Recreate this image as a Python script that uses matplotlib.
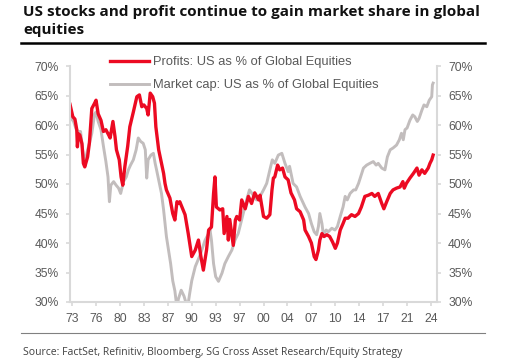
import matplotlib
matplotlib.use("Agg")
import matplotlib.pyplot as plt
from matplotlib.lines import Line2D
import numpy as np

# Profits: US as % of Global Equities (decimal year, %)
profit_years = [
    1972.7, 1973.1, 1973.4, 1973.66, 1973.75, 1973.9, 1974.1, 1974.4, 1974.6, 1974.8,
    1975.2, 1975.46, 1975.8, 1976.2, 1976.4, 1976.7, 1977.1, 1977.45, 1977.8, 1978.2,
    1978.4, 1978.8, 1979.1, 1979.3, 1979.7, 1979.96, 1980.2, 1980.5, 1980.9, 1981.2,
    1981.7, 1982.2, 1982.56, 1982.9, 1983.2, 1983.6, 1983.8, 1984.1, 1984.45, 1984.7,
    1984.9, 1985.3, 1985.6, 1986.0, 1986.2, 1986.4, 1986.9, 1987.3, 1987.6, 1987.9,
    1988.1, 1988.3, 1988.6, 1989.05, 1989.5, 1990.0, 1990.5, 1990.95, 1991.3, 1991.65,
    1992.1, 1992.4, 1992.8, 1993.1, 1993.3, 1993.5, 1994.0, 1994.4, 1994.6, 1995.0,
    1995.2, 1995.4, 1995.6, 1995.9, 1996.2, 1996.4, 1996.8, 1997.1, 1997.6, 1998.05,
    1998.5, 1998.95, 1999.5, 1999.7, 2000.2, 2000.65, 2001.1, 2001.4, 2001.6, 2001.8,
    2002.2, 2002.5, 2002.9, 2003.25, 2003.7, 2004.1, 2004.6, 2004.9, 2005.4, 2005.9,
    2006.1, 2006.6, 2007.0, 2007.4, 2007.65, 2008.0, 2008.2, 2008.5, 2008.8, 2009.2,
    2009.6, 2010.0, 2010.4, 2010.7, 2011.1, 2011.5, 2011.8, 2012.2, 2012.7, 2013.2,
    2013.7, 2014.1, 2014.6, 2015.1, 2015.6, 2016.0, 2016.5, 2017.0, 2017.3, 2017.7,
    2018.2, 2018.6, 2019.1, 2019.6, 2020.0, 2020.2, 2020.5, 2021.0, 2021.5, 2022.0,
    2022.3, 2022.7, 2023.1, 2023.6, 2023.85, 2024.1, 2024.3,
]
profit_share = [
    63.5, 61.4, 61.0, 59.2, 56.3, 58.5, 58.3, 56.8, 53.5, 52.9,
    54.6, 57.0, 62.8, 63.7, 64.2, 61.9, 60.8, 58.9, 59.2, 58.3,
    57.8, 60.6, 58.0, 55.8, 54.1, 51.2, 49.8, 53.0, 56.4, 59.7,
    62.2, 64.8, 65.1, 63.1, 63.4, 62.8, 61.7, 65.4, 64.8, 63.7,
    59.7, 55.8, 54.1, 51.8, 50.1, 49.0, 47.6, 45.0, 43.9, 47.0,
    46.7, 47.0, 46.1, 44.8, 41.6, 37.7, 38.8, 40.5, 37.7, 35.4,
    38.8, 42.2, 42.7, 48.4, 51.2, 46.1, 45.6, 45.8, 41.6, 44.5,
    40.5, 44.0, 42.2, 39.6, 43.9, 44.5, 43.9, 47.3, 45.8, 47.9,
    46.7, 48.5, 47.3, 48.1, 44.5, 44.2, 44.8, 49.0, 51.0, 51.2,
    53.2, 52.4, 52.7, 51.2, 50.7, 48.5, 47.3, 45.8, 45.3, 43.9,
    42.2, 41.1, 40.0, 37.7, 37.2, 38.8, 40.5, 41.6, 41.1, 41.4,
    41.1, 40.2, 39.1, 40.0, 42.2, 43.3, 44.2, 44.2, 44.8, 44.5,
    45.0, 46.1, 47.9, 48.1, 48.4, 47.9, 48.4, 46.7, 45.8, 47.0,
    48.4, 49.0, 49.3, 49.5, 50.4, 49.3, 50.1, 51.0, 51.8, 52.7,
    51.5, 52.4, 51.8, 52.7, 53.5, 54.1, 54.9,
]

# Market cap: US as % of Global Equities (decimal year, %)
mcap_years = [
    1972.7, 1973.2, 1973.6, 1973.9, 1974.2, 1974.5, 1974.8, 1975.2, 1975.46, 1975.8,
    1976.2, 1976.4, 1976.7, 1977.1, 1977.45, 1977.8, 1978.1, 1978.3, 1978.5, 1978.9,
    1979.25, 1979.6, 1979.9, 1980.3, 1980.7, 1981.0, 1981.3, 1981.7, 1982.1, 1982.4,
    1982.75, 1983.1, 1983.4, 1983.6, 1983.8, 1984.2, 1984.55, 1984.8, 1985.0, 1985.4,
    1985.7, 1986.0, 1986.2, 1986.4, 1986.7, 1987.0, 1987.3, 1987.6, 1987.9, 1988.1,
    1988.5, 1988.9, 1989.4, 1989.7, 1990.0, 1990.5, 1991.2, 1991.9, 1992.4, 1992.6,
    1992.8, 1993.1, 1993.4, 1993.8, 1994.3, 1994.7, 1995.2, 1995.7, 1996.15, 1996.6,
    1997.1, 1997.8, 1998.2, 1998.5, 1999.2, 1999.7, 2000.2, 2000.65, 2001.1, 2001.45,
    2001.8, 2002.3, 2002.8, 2003.25, 2003.7, 2003.9, 2004.4, 2004.9, 2005.4, 2006.1,
    2006.6, 2007.0, 2007.4, 2007.75, 2008.0, 2008.2, 2008.5, 2008.7, 2009.1, 2009.4,
    2009.9, 2010.35, 2010.7, 2011.1, 2011.5, 2011.8, 2012.1, 2012.5, 2013.0, 2013.3,
    2013.7, 2014.0, 2014.4, 2014.85, 2015.3, 2015.8, 2016.2, 2016.5, 2017.0, 2017.45,
    2017.8, 2018.2, 2018.6, 2019.1, 2019.5, 2019.8, 2020.06, 2020.3, 2020.6, 2021.0,
    2021.4, 2021.7, 2022.05, 2022.3, 2022.7, 2023.0, 2023.4, 2023.75, 2024.1, 2024.2,
    2024.3,
]
mcap_share = [
    61.4, 60.6, 59.2, 58.9, 58.9, 55.8, 53.5, 55.8, 56.9, 58.6,
    61.9, 62.2, 60.6, 59.2, 56.4, 53.8, 51.2, 47.0, 49.8, 50.4,
    49.8, 49.3, 48.4, 50.4, 51.2, 52.4, 53.2, 54.1, 55.8, 57.8,
    57.2, 56.9, 55.8, 51.0, 54.1, 54.9, 55.2, 53.5, 52.4, 50.1,
    48.4, 45.6, 43.3, 41.1, 38.8, 36.5, 33.6, 31.9, 29.0, 30.5,
    32.0, 31.0, 29.0, 31.4, 33.6, 36.0, 38.0, 40.5, 41.6, 42.2,
    40.5, 36.5, 34.3, 33.5, 34.9, 36.5, 37.7, 38.8, 40.5, 41.6,
    44.0, 47.3, 49.0, 48.5, 47.3, 47.9, 49.0, 50.1, 52.4, 54.1,
    53.5, 54.9, 55.2, 53.5, 52.1, 53.0, 50.1, 49.5, 47.9, 46.1,
    45.0, 43.3, 41.9, 41.4, 42.8, 45.0, 43.3, 41.4, 42.2, 41.9,
    42.5, 42.2, 42.8, 44.5, 46.1, 47.9, 47.3, 48.4, 49.0, 49.0,
    50.1, 51.2, 52.7, 53.2, 53.5, 53.8, 53.2, 53.5, 52.7, 52.4,
    54.6, 55.8, 56.1, 56.6, 57.5, 58.6, 57.5, 59.2, 59.5, 60.8,
    61.7, 61.4, 60.6, 61.1, 62.5, 63.4, 63.1, 64.2, 64.8, 66.8,
    67.1,
]

x_tick_pos = np.linspace(1973, 2024, 16)
x_tick_labels = ["73", "76", "80", "83", "87", "90", "93", "97",
                 "00", "04", "07", "10", "14", "17", "21", "24"]
y_ticks = [30, 35, 40, 45, 50, 55, 60, 65, 70]

RED = "#ec0a22"
GREY = "#c2bdbd"
AXC = "#d9d9d9"
TXT = "#595959"

plt.rcParams["font.family"] = ["Liberation Sans", "DejaVu Sans"]

fig = plt.figure(figsize=(5.06, 3.58), dpi=100)
ax = fig.add_axes([70 / 506, 1 - 302 / 358, 367 / 506, 236 / 358])

ax.plot(mcap_years, mcap_share, color=GREY, lw=2.1,
        label="Market cap: US as % of Global Equities")
ax.plot(profit_years, profit_share, color=RED, lw=2.4,
        label="Profits: US as % of Global Equities")

ax.set_xlim(1972.7, 2024.85)
ax.set_ylim(30, 70)
ax.set_xticks(x_tick_pos)
ax.set_xticklabels(x_tick_labels)
ax.set_yticks(y_ticks)
ax.set_yticklabels([f"{v}%" for v in y_ticks])

for s in ["left", "right", "bottom"]:
    ax.spines[s].set_color(AXC)
    ax.spines[s].set_linewidth(1.5)
ax.spines["top"].set_visible(False)
ax.tick_params(axis="both", colors=AXC, labelcolor=TXT, labelsize=8.7,
               length=3, width=1.2, direction="out")
ax.tick_params(axis="x", pad=5)
ax.tick_params(axis="y", pad=5, right=True, labelright=True)

handles, labels = ax.get_legend_handles_labels()
leg = fig.legend(handles[::-1], labels[::-1], loc="upper left",
                 bbox_to_anchor=(110 / 506, 1 - 56 / 358), frameon=False,
                 fontsize=9.3, handlelength=3.0, handletextpad=0.3,
                 labelspacing=0.85, borderpad=0, borderaxespad=0)
for t in leg.get_texts():
    t.set_color(TXT)

fig.text(23 / 506, 1 - 5 / 358,
         "US stocks and profit continue to gain market share in global\nequities",
         ha="left", va="top", fontsize=11, fontweight="bold",
         family=["Open Sans", "DejaVu Sans"], color="#111111", linespacing=1.32)
fig.add_artist(Line2D([21 / 506, 485 / 506], [1 - 43 / 358, 1 - 43 / 358],
                      color="black", lw=1.8, transform=fig.transFigure))
fig.add_artist(Line2D([21 / 506, 485 / 506], [1 - 333 / 358, 1 - 333 / 358],
                      color="#808080", lw=0.8, transform=fig.transFigure))
fig.text(23 / 506, 1 - 352 / 358,
         "Source: FactSet, Refinitiv, Bloomberg, SG Cross Asset Research/Equity Strategy",
         ha="left", va="center", fontsize=7.5, family=["Open Sans", "DejaVu Sans"],
         color="#404040")

fig.savefig("out.png", dpi=100)
